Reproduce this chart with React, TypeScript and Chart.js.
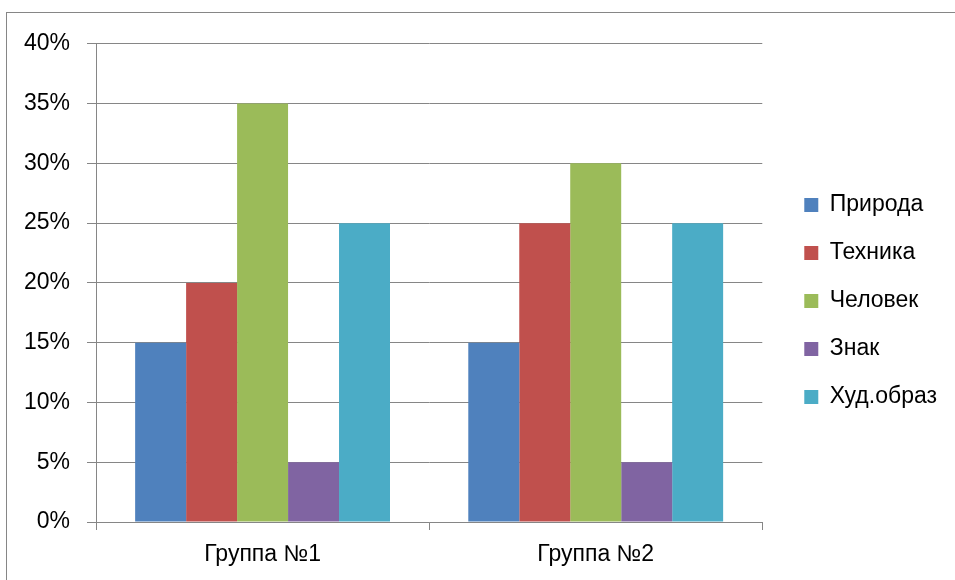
import React, { useEffect, useRef } from 'react';
import { Chart, registerables } from 'chart.js';

Chart.register(...registerables);

const groups = ['Группа №1', 'Группа №2'];
const seriesNames = ['Природа', 'Техника', 'Человек', 'Знак', 'Худ.образ'];
const seriesColors = ['#4F81BD', '#C0504D', '#9BBB59', '#8064A2', '#4BACC6'];
const prirodaValues = [15, 15];
const tehnikaValues = [20, 25];
const chelovekValues = [35, 30];
const znakValues = [5, 5];
const hudobrazValues = [25, 25];
const seriesValues = [prirodaValues, tehnikaValues, chelovekValues, znakValues, hudobrazValues];

const AXIS_GRAY = '#868686';
const FONT = { family: '"Liberation Sans", Arial, sans-serif', size: 23 };

// invisible scale used only to reserve space
const spacer = (position: string, size: number) => ({
  type: 'linear',
  position,
  display: true,
  grid: { display: false },
  border: { display: false },
  ticks: { display: false },
  afterFit: (scale: any) => {
    if (position === 'top') scale.height = size;
    else scale.width = size;
  },
});

const App: React.FC = () => {
  const canvasRef = useRef<HTMLCanvasElement>(null);

  useEffect(() => {
    if (!canvasRef.current) return;

    const chart = new Chart(canvasRef.current, {
      type: 'bar',
      data: {
        labels: groups,
        datasets: seriesNames.map((name, i) => ({
          label: name,
          data: seriesValues[i],
          backgroundColor: seriesColors[i],
          borderWidth: 0,
          barPercentage: 1,
          categoryPercentage: 0.765,
        })),
      },
      options: {
        responsive: true,
        maintainAspectRatio: false,
        animation: false,
        layout: {
          padding: { top: 19, bottom: 10, left: 0, right: 8 },
        },
        plugins: {
          legend: {
            position: 'right',
            maxWidth: 300,
            labels: {
              boxWidth: 14,
              boxHeight: 14,
              padding: 25,
              color: '#000',
              font: FONT,
            },
          },
          tooltip: { enabled: false },
        },
        scales: {
          x: {
            grid: {
              drawOnChartArea: false,
              offset: true,
              tickLength: 8,
              color: AXIS_GRAY,
            },
            border: { color: AXIS_GRAY },
            ticks: { color: '#000', font: FONT, padding: 11 },
            afterFit: (scale: any) => { scale.height = 48; },
          },
          y: {
            min: 0,
            max: 40,
            ticks: {
              stepSize: 5,
              color: '#000',
              font: FONT,
              padding: 17,
              callback: (v: any) => v + '%',
            },
            grid: { color: AXIS_GRAY, tickLength: 9 },
            border: { color: AXIS_GRAY },
            afterFit: (scale: any) => { scale.width = 89; },
          },
          topSpacer: spacer('top', 11),
          rightSpacer: spacer('right', 17),
        } as any,
      },
    });

    return () => {
      chart.destroy();
    };
  }, []);

  return (
    <div
      style={{
        position: 'fixed',
        left: 6,
        top: 12,
        width: 1100,
        height: 700,
        border: `1px solid ${AXIS_GRAY}`,
        background: '#fff',
      }}
    >
      <div style={{ position: 'absolute', left: 0, top: 0, width: 948, height: 567 }}>
        <canvas ref={canvasRef}></canvas>
      </div>
    </div>
  );
};

export default App;
